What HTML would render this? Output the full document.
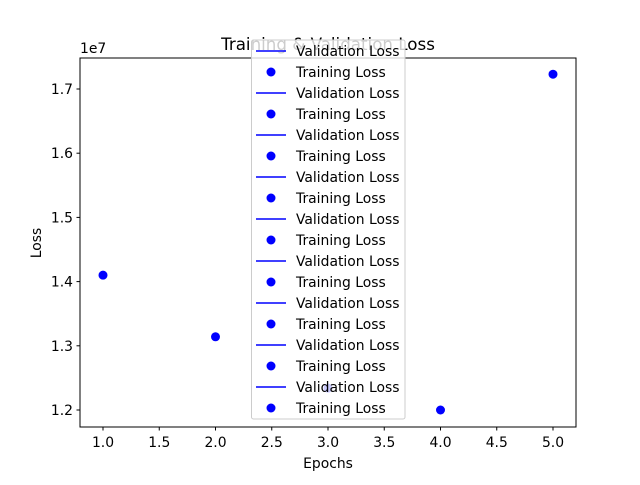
<!DOCTYPE html>
<html><head><meta charset="utf-8"><style>
body{margin:0;background:#fff}
text{font-family:"DejaVu Sans","Liberation Sans",sans-serif;}
</style></head><body>
<svg id="chart" width="640" height="480" xmlns="http://www.w3.org/2000/svg">
<rect width="640" height="480" fill="#fff"/>
<text x="328" y="50" text-anchor="middle" font-size="16.7">Training &amp; Validation Loss</text>
<g id="plot"></g>
<rect x="80" y="58" width="496" height="369" fill="none" stroke="#000" stroke-width="1"/>
<text x="328" y="468" text-anchor="middle" font-size="13.9">Epochs</text>
<text transform="translate(41,243) rotate(-90)" text-anchor="middle" font-size="13.9">Loss</text>
<text x="80" y="53" font-size="13.9">1e7</text>
<g id="legend"></g>
</svg>
<script>
const epochs=[1,2,3,4,5];
const trainLoss=[1.410,1.314,1.234,1.200,1.723];
const xTicks=[1.0,1.5,2.0,2.5,3.0,3.5,4.0,4.5,5.0];
const yTicks=[1.2,1.3,1.4,1.5,1.6,1.7];
const legendLabels=["Validation Loss","Training Loss","Validation Loss","Training Loss","Validation Loss","Training Loss","Validation Loss","Training Loss","Validation Loss","Training Loss","Validation Loss","Training Loss","Validation Loss","Training Loss","Validation Loss","Training Loss","Validation Loss","Training Loss"];
const NS="http://www.w3.org/2000/svg";
const xs=v=>103+(v-1)*112.5;
const ys=v=>410-(v-1.2)*642;
const plot=document.getElementById('plot');
function mk(tag,attrs,parent){const e=document.createElementNS(NS,tag);for(const k in attrs)e.setAttribute(k,attrs[k]);parent.appendChild(e);return e;}
xTicks.forEach(t=>{
 const l=mk('line',{x1:xs(t),x2:xs(t),y1:427,y2:430.5,stroke:'#000'},plot);
 
 
 const tx=mk('text',{x:xs(t),y:447,'text-anchor':'middle','font-size':'13.9'},plot);
 tx.textContent=t.toFixed(1);
 
 
});
yTicks.forEach(t=>{
 const l=mk('line',{x1:76.5,x2:80,y1:ys(t),y2:ys(t),stroke:'#000'},plot);
 
 
 const tx=mk('text',{x:73,y:ys(t)+5,'text-anchor':'end','font-size':'13.9'},plot);
 tx.textContent=t.toFixed(1);
 
 
});
epochs.forEach((e,i)=>{
 const c=mk('circle',{cx:xs(e),cy:ys(trainLoss[i]),r:4.5,fill:'#0000ff'},plot);
 
 
});
const lg=document.getElementById('legend');
const box=mk('rect',{x:251.5,y:40,width:153.5,height:379,rx:2,fill:'#fff','fill-opacity':0.8,stroke:'#ccc'},lg);


legendLabels.forEach((lab,i)=>{
 const y=51+i*21;
 if(lab.startsWith('Validation')){
  const l=mk('line',{x1:256,x2:286,y1:y,y2:y,stroke:'#0000ff','stroke-width':1.5},lg);
  
  
 } else {
  const c=mk('circle',{cx:271,cy:y,r:4.5,fill:'#0000ff'},lg);
  
  
 }
 const t=mk('text',{x:296,y:y+5,'font-size':'13.9'},lg);
 t.textContent=lab;
 
 
});
</script>
</body></html>
